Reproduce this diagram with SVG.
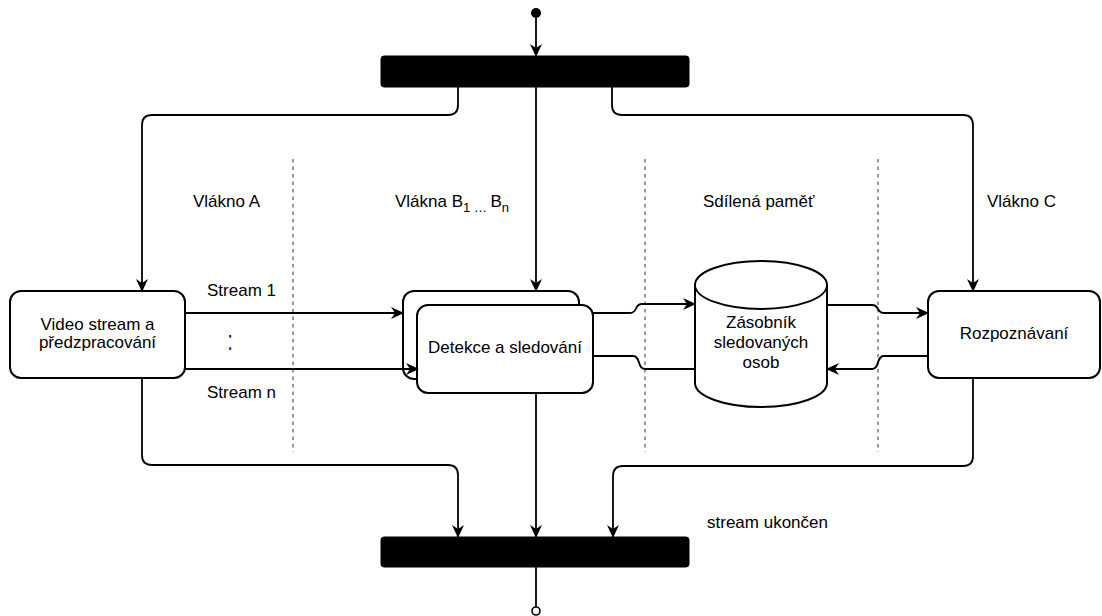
<svg xmlns="http://www.w3.org/2000/svg" width="1102" height="616" viewBox="0 0 1102 616">
<style>
text{font-family:"Liberation Sans",Arial,Helvetica,sans-serif;font-size:17px;fill:#000}
.c{text-anchor:middle}
.box{fill:#fff;stroke:#000;stroke-width:2}
.bar{fill:#000;stroke:#000}
.edge{fill:none;stroke:#000;stroke-width:1.8}
.dash{stroke:#808080;stroke-width:1.6;stroke-dasharray:3.5 4;fill:none}
</style>
<defs>
<marker id="arr" viewBox="0 0 13 12" refX="12" refY="6" markerWidth="13" markerHeight="12" markerUnits="userSpaceOnUse" orient="auto">
<path d="M0,0 L13,6 L0,12 L4,6 Z" fill="#000"/>
</marker>
</defs>
<rect width="1102" height="616" fill="#fff"/>
<g id="lanes">
<line class="dash" x1="293" y1="159" x2="293" y2="452"/>
<line class="dash" x1="645" y1="159" x2="645" y2="452"/>
<line class="dash" x1="878" y1="159" x2="878" y2="452"/>
<text x="193" y="207">Vlákno A</text>
<text x="395" y="207">Vlákna B<tspan dy="5" font-size="13">1 … </tspan><tspan dy="-5">B</tspan><tspan dy="5" font-size="13">n</tspan></text>
<text x="703" y="207">Sdílená paměť</text>
<text x="987" y="207">Vlákno C</text>
</g>
<g id="start"><circle cx="536" cy="13" r="5" fill="#000"/></g>
<g id="fork"><rect class="bar" x="381" y="56" width="308" height="31" rx="3"/></g>
<g id="join"><rect class="bar" x="381" y="537" width="308" height="30" rx="3"/></g>
<g id="end"><circle cx="536" cy="611" r="4" fill="#fff" stroke="#000" stroke-width="1.6"/></g>
<g id="video">
<rect class="box" x="10" y="291" width="175" height="87" rx="11"/>
<text class="c" x="97.5" y="330">Video stream a</text>
<text class="c" x="97.5" y="348">předzpracování</text>
</g>
<g id="detekce">
<rect class="box" x="403" y="291" width="176" height="88" rx="11"/>
<rect class="box" x="417" y="305" width="176" height="88" rx="11"/>
<text class="c" x="505" y="353">Detekce a sledování</text>
</g>
<g id="zasobnik">
<path class="box" d="M695,285 A66,24 0 0 1 827,285 V383 A66,24 0 0 1 695,383 Z"/>
<path class="edge" stroke-width="2" d="M695,285 A66,24 0 0 0 827,285"/>
<text class="c" x="761" y="328">Zásobník</text>
<text class="c" x="761" y="348">sledovaných</text>
<text class="c" x="761" y="368">osob</text>
</g>
<g id="rozpoznavani">
<rect class="box" x="928" y="291" width="172" height="87" rx="11"/>
<text class="c" x="1014" y="339">Rozpoznávaní</text>
</g>
<g id="connectors">
<path class="edge" marker-end="url(#arr)" d="M536,18 V56"/>
<path class="edge" marker-end="url(#arr)" d="M458,87 V105 Q458,115 448,115 H152 Q142,115 142,125 V291"/>
<path class="edge" marker-end="url(#arr)" d="M612,87 V105 Q612,115 622,115 H963 Q973,115 973,125 V291"/>
<path class="edge" marker-end="url(#arr)" d="M536,87 V291"/>
<path class="edge" marker-end="url(#arr)" d="M185,313 H403"/>
<path class="edge" marker-end="url(#arr)" d="M185,369 H418"/>
<path class="edge" marker-end="url(#arr)" d="M593,313 H630 C638,313 634,304 642,304 H695"/>
<path class="edge" d="M593,356 H633 C641,356 637,369 645,369 H695"/>
<path class="edge" marker-end="url(#arr)" d="M827,305 H872 C880,305 876,313 884,313 H928"/>
<path class="edge" marker-end="url(#arr)" d="M928,356 H884 C876,356 880,369 872,369 H827"/>
<path class="edge" marker-end="url(#arr)" d="M142,378 V455 Q142,465 152,465 H448 Q458,465 458,475 V537"/>
<path class="edge" marker-end="url(#arr)" d="M536,393 V537"/>
<path class="edge" marker-end="url(#arr)" d="M973,378 V456 Q973,466 963,466 H623 Q613,466 613,476 V537"/>
<path class="edge" d="M536,567 V607"/>
</g>
<g id="labels">
<text x="207" y="296">Stream 1</text>
<text x="207" y="398">Stream n</text>
<text class="c" transform="translate(230,350) scale(1,1.6)" font-size="24">:</text>
<text x="707" y="528">stream ukončen</text>
</g>
</svg>
